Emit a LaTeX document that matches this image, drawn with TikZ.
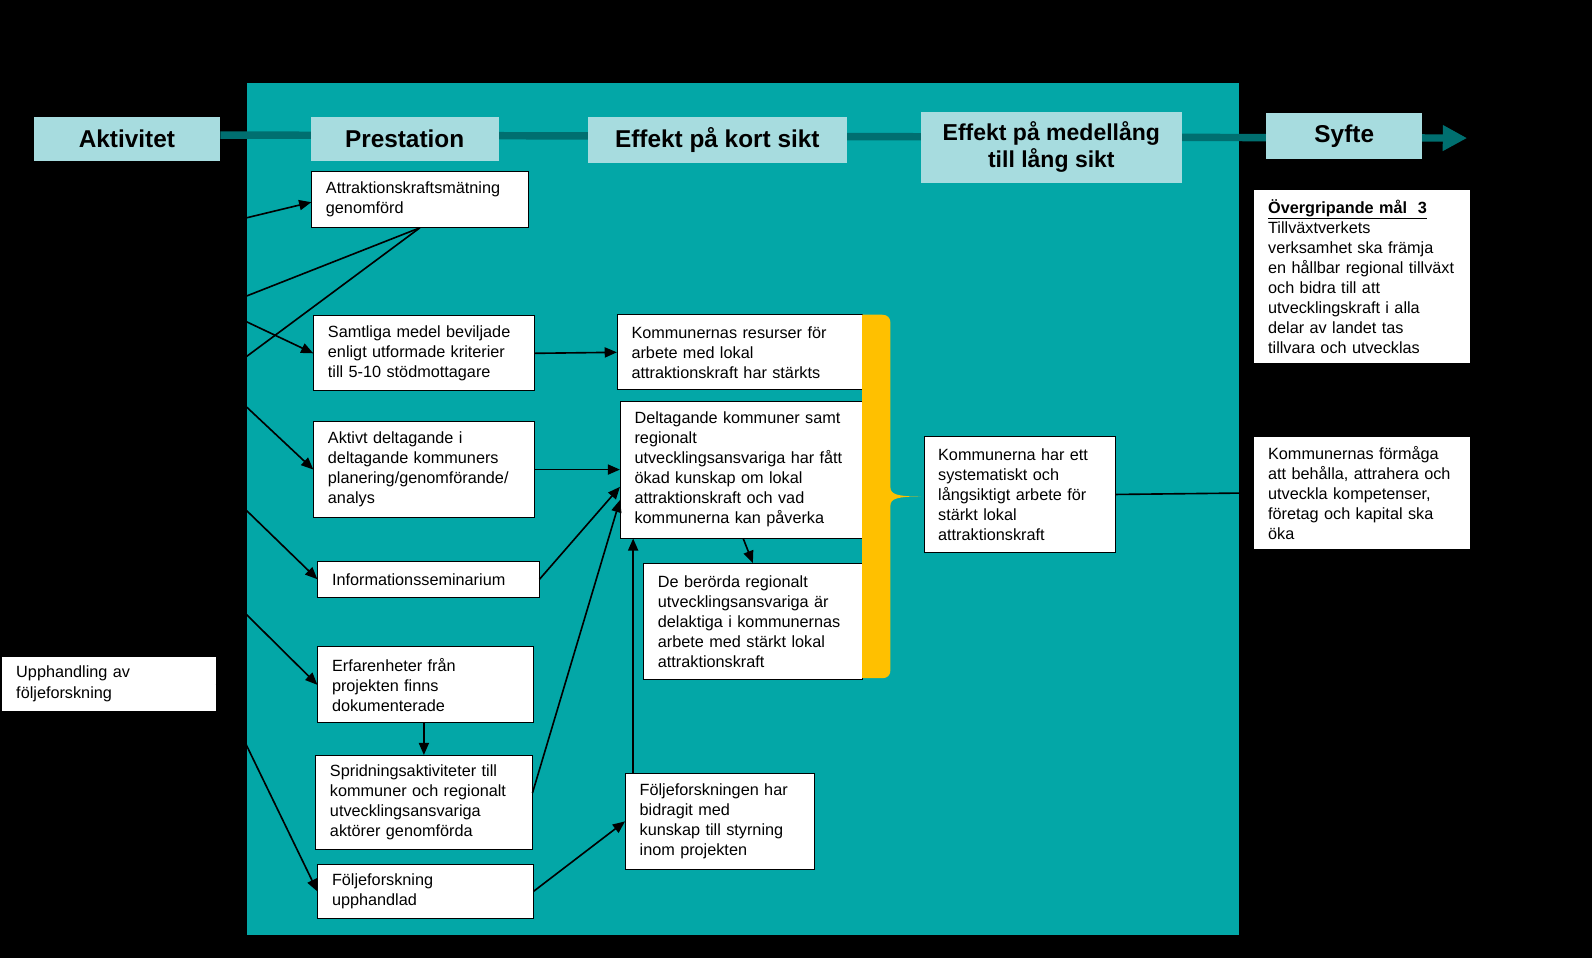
\documentclass[tikz,border=0pt]{standalone}
\usepackage{fontspec}
\setmainfont{Liberation Sans}
\usetikzlibrary{arrows.meta}
\definecolor{bgteal}{HTML}{03A7A7}
\definecolor{hdrfill}{HTML}{A7DCDF}
\definecolor{darkteal}{HTML}{006F70}
\definecolor{braceyellow}{HTML}{FFC000}
\tikzset{
  wbox/.style={draw=black, line width=0.6pt, fill=white, inner xsep=10.5pt, inner ysep=0pt,
    align=left, font=\fontsize{12}{14.8}\selectfont},
  plainbox/.style={wbox, draw=none},
  hdr/.style={fill=hdrfill, inner sep=0pt, align=center, font=\fontsize{18}{21}\selectfont\bfseries},
  conn/.style={line width=1.2pt, black},
  arr/.style={conn, -{Triangle[length=9pt,width=7.5pt]}}
}
\begin{document}
\begin{tikzpicture}[x=0.75pt,y=-0.75pt]
% background
\fill[black] (0,0) rectangle (1568,944);
\useasboundingbox (0,0) rectangle (1568,944);
\fill[bgteal] (243,82) rectangle (1220,921);

% header line with arrow
\coordinate (tl0) at (217,133);
\coordinate (tl1) at (1445,136);
\draw[darkteal, line width=5.5pt, -{Triangle[length=18pt,width=18pt]}] (tl0) -- (tl1);

% headers
\node[hdr, minimum width=138pt, minimum height=33pt] (akt) at (125,137) {Aktivitet};
\node[hdr, minimum width=138.75pt, minimum height=33pt] (prest) at (398.5,137) {Prestation};
\node[hdr, minimum width=191.25pt, minimum height=34.5pt] (kort) at (706.5,138) {Effekt på kort sikt};
\node[hdr, minimum width=192.75pt, minimum height=52.5pt, font=\fontsize{17}{20}\selectfont\bfseries] (medel) at (1035.5,145) {Effekt på medellång\\till lång sikt};
\node[hdr, minimum width=115.5pt, minimum height=33.75pt] (syfte) at (1324,134) {Syfte};

% boxes - Prestation column
\node[wbox, minimum width=159.75pt, minimum height=41.25pt, text width=138.75pt] (attr) at (413.5,196.5)
  {Attraktionskraftsmätning\\genomförd};
\node[wbox, minimum width=162.75pt, minimum height=55.5pt, text width=141.75pt] (samt) at (417.5,348)
  {Samtliga medel beviljade\\enligt utformade kriterier\\till 5-10 stödmottagare};
\node[wbox, minimum width=162.75pt, minimum height=71.25pt, text width=141.75pt] (aktivt) at (417.5,462.5)
  {Aktivt deltagande i\\deltagande kommuners\\planering/genomförande/\\analys};
\node[wbox, minimum width=163.5pt, minimum height=26.25pt, text width=142.5pt] (info) at (422,570.5)
  {Informationsseminarium};
\node[wbox, minimum width=159pt, minimum height=56.25pt, text width=138pt] (erf) at (419,674.5)
  {Erfarenheter från\\projekten finns\\dokumenterade};
\node[wbox, minimum width=159.75pt, minimum height=69.75pt, text width=138.75pt] (sprid) at (417.5,790.5)
  {Spridningsaktiviteter till\\kommuner och regionalt\\utvecklingsansvariga\\aktörer genomförda};
\node[wbox, minimum width=159pt, minimum height=40.5pt, text width=138pt] (foljup) at (419,878)
  {Följeforskning\\upphandlad};
\node[plainbox, minimum width=158.25pt, minimum height=39.75pt, text width=137.25pt] (upph) at (107.5,673.5)
  {Upphandling av\\följeforskning};

% boxes - short term effects
\node[wbox, minimum width=180.75pt, minimum height=55.5pt, text width=159.75pt] (resurs) at (728.5,347)
  {Kommunernas resurser för\\arbete med lokal\\attraktionskraft har stärkts};
\node[wbox, minimum width=178.5pt, minimum height=101.25pt, text width=157.5pt] (delt) at (730,462.5)
  {Deltagande kommuner samt\\regionalt\\utvecklingsansvariga har fått\\ökad kunskap om lokal\\attraktionskraft och vad\\kommunerna kan påverka};
\node[wbox, minimum width=161.25pt, minimum height=85.5pt, text width=140.25pt] (berord) at (741.5,612)
  {De berörda regionalt\\utvecklingsansvariga är\\delaktiga i kommunernas\\arbete med stärkt lokal\\attraktionskraft};
\node[wbox, minimum width=139.5pt, minimum height=70.5pt, text width=118.5pt] (foljbid) at (709,809)
  {Följeforskningen har\\bidragit med\\kunskap till styrning\\inom projekten};

% medium/long term
\node[wbox, minimum width=141.75pt, minimum height=85.5pt, text width=120.75pt] (syst) at (1004.5,487)
  {Kommunerna har ett\\systematiskt och\\långsiktigt arbete för\\stärkt lokal\\attraktionskraft};

% purpose
\node[plainbox, minimum width=159.75pt, minimum height=128.25pt, text width=138.75pt] (overgr) at (1341.5,272.5)
  {\textbf{\underline{Övergripande mål\ \ 3}}\\Tillväxtverkets\\verksamhet ska främja\\en hållbar regional tillväxt\\och bidra till att\\utvecklingskraft i alla\\delar av landet tas\\tillvara och utvecklas};
\node[plainbox, minimum width=159.75pt, minimum height=83.25pt, text width=138.75pt] (formaga) at (1341.5,485.5)
  {Kommunernas förmåga\\att behålla, attrahera och\\utveckla kompetenser,\\företag och kapital ska\\öka};

% left-edge coordinates (lines continue into the black area)
\coordinate (ea) at (243,214.5);
\coordinate (eb) at (243,291.5);
\coordinate (ec) at (243,317);
\coordinate (ed) at (243,351);
\coordinate (ee) at (243,401);
\coordinate (ef) at (243,503);
\coordinate (eg) at (243,605.5);

% connectors
\draw[arr] (ea) -- ([yshift=-2pt]attr.west);
\draw[conn] (attr.south) -- (eb);
\draw[conn] (attr.south) -- (ed);
\draw[arr] (ec) -- (samt.west);
\draw[arr] (ee) -- (aktivt.west);
\draw[arr] (ef) -- (info.west);
\draw[arr] (eg) -- (erf.west);
\draw[arr] (upph.east) -- (foljup.west);
\draw[arr] (samt.east) -- (resurs.west);
\draw[arr] (aktivt.east) -- (delt.west);
\draw[arr] (info.east) -- ([yshift=-12.75pt]delt.west);
\draw[arr] ([yshift=7pt]sprid.east) -- ([yshift=-22.5pt]delt.west);
\draw[arr] (sprid.north |- erf.south) -- (sprid.north);
\draw[arr] (foljup.east) -- (foljbid.west);
\draw[arr] ([xshift=6pt]foljbid.north west) -- ([xshift=6pt]foljbid.north west |- delt.south);
\draw[arr] ([xshift=1.5pt]delt.south) -- (berord.north);
\draw[conn] (syst.east) -- (formaga.west);

% yellow brace
\fill[braceyellow] (849,310) -- (869,310) .. controls (874,310) and (877,313) .. (877,318)
  -- (877,480) .. controls (877,487) and (884,489) .. (907,489)
  .. controls (884,489) and (877,491) .. (877,498)
  -- (877,660) .. controls (877,665) and (874,668) .. (869,668) -- (849,668) -- cycle;
\end{tikzpicture}
\end{document}
